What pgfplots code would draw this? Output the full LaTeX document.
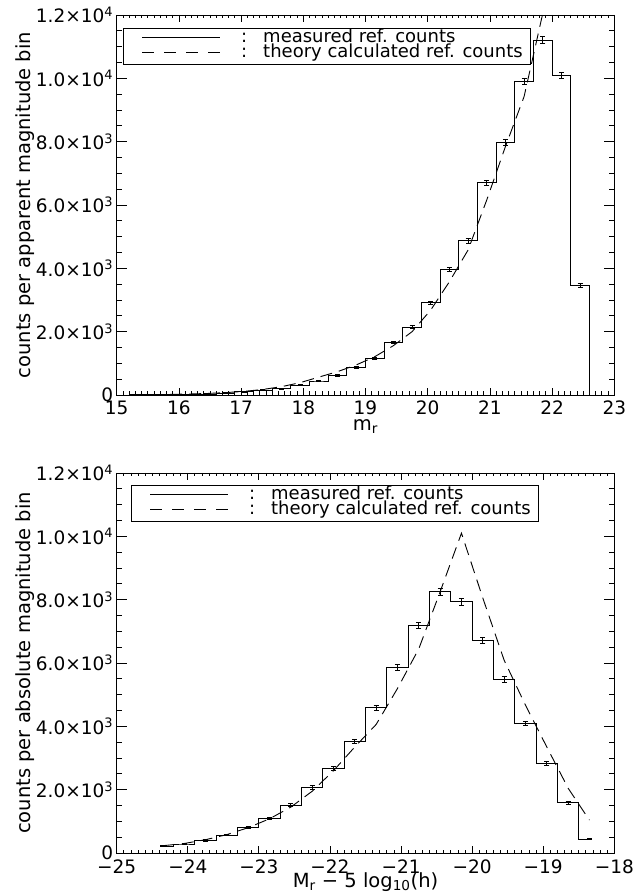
\documentclass[border=0pt]{standalone}
\usepackage{pgfplots}
\pgfplotsset{compat=1.18}
\usepackage{fontspec}
\setmainfont{DejaVu Sans}

\pgfplotstableread{
x y e
15.25 5 2
15.55 8 3
15.85 12 3
16.15 20 4
16.45 32 6
16.75 60 8
17.05 100 10
17.35 150 12
17.65 200 14
17.95 316 18
18.25 442 21
18.55 611 25
18.85 874 30
19.15 1148 34
19.45 1653 41
19.75 2139 46
20.05 2907 54
20.35 3965 63
20.65 4870 70
20.95 6699 82
21.25 7985 89
21.55 9900 100
21.85 11208 106
22.15 10090 100
22.45 3466 59
22.75 0 0
}\apphist

\pgfplotstableread{
x y
15.25 7
15.55 12
15.85 19
16.15 30
16.45 48
16.75 75
17.05 115
17.35 175
17.65 263
17.95 390
18.25 565
18.55 737
18.85 948
19.15 1211
19.45 1559
19.75 2002
20.05 2686
20.35 3581
20.65 4582
20.95 6162
21.25 7847
21.55 9426
21.85 12050
22.15 15000
22.45 18500
}\apptheory

\pgfplotstableread{
x y e
-24.35 220 17
-24.05 284 19
-23.75 390 23
-23.45 568 27
-23.15 800 33
-22.85 1095 38
-22.55 1515 45
-22.25 2072 52
-21.95 2670 59
-21.65 3530 68
-21.35 4595 78
-21.05 5860 88
-20.75 7190 97
-20.45 8245 105
-20.15 7930 102
-19.85 6710 94
-19.55 5480 85
-19.25 4090 73
-18.95 2830 61
-18.65 1590 46
-18.35 440 24
}\abshist

\pgfplotstableread{
x y
-24.35 230
-24.05 300
-23.75 420
-23.45 580
-23.15 800
-22.85 1080
-22.55 1450
-22.25 1950
-21.95 2600
-21.65 3350
-21.35 4060
-21.05 5195
-20.75 6450
-20.45 8250
-20.15 10100
-19.85 8055
-19.55 6090
-19.25 4670
-18.95 3350
-18.65 2050
-18.35 1040
}\abstheory

\newcommand{\solidsample}{\makebox[97pt][l]{\hspace{19pt}\rule[4.8pt]{78pt}{0.9pt}}}
\newcommand{\dashsample}{\makebox[97pt][l]{\hspace{19pt}\rule[4.8pt]{12pt}{0.9pt}\hspace{10pt}\rule[4.8pt]{12pt}{0.9pt}\hspace{10pt}\rule[4.8pt]{12pt}{0.9pt}\hspace{10pt}\rule[4.8pt]{12pt}{0.9pt}}}

\pgfplotsset{
  idl/.style={
    scale only axis,
    width=497.6pt, height=380pt,
    axis line style={line width=0.9pt},
    tick align=inside,
    xtick style={/pgfplots/major tick length=7pt, /pgfplots/minor tick length=3.5pt, line width=0.8pt, black},
    ytick style={/pgfplots/major tick length=10pt, /pgfplots/minor tick length=5pt, line width=0.8pt, black},
    minor x tick num=9,
    minor y tick num=3,
    ymin=0, ymax=12000,
    ytick={0,2000,4000,6000,8000,10000,12000},
    yticklabels={0,2.0×10\textsuperscript{3},4.0×10\textsuperscript{3},6.0×10\textsuperscript{3},8.0×10\textsuperscript{3},1.0×10\textsuperscript{4},1.2×10\textsuperscript{4}},
    scaled y ticks=false,
    tick label style={font=\fontsize{18.5}{20}\selectfont},
    xticklabel style={yshift=-2pt},
    label style={font=\fontsize{19.5}{22}\selectfont},
    xlabel style={at={(axis description cs:0.5,-0.083)}, anchor=center},
    ylabel style={at={(axis description cs:-0.185,0.5)}, anchor=center},
    legend image code/.code={},
    legend style={draw=black, line width=0.9pt, inner xsep=0pt, inner ysep=3pt,
      font=\fontsize{18}{20}\selectfont,
      nodes={inner sep=0pt, text height=11pt, text depth=4pt}},
    legend cell align=left,
  },
  hist/.style={black, line width=0.9pt, const plot mark mid, mark=none,
    error bars/.cd, y dir=both, y explicit,
    error bar style={line width=0.9pt, solid},
    error mark options={rotate=90, mark size=2.5pt, line width=0.9pt, solid}},
  theo/.style={black, line width=0.9pt, mark=none, dash pattern=on 12pt off 7pt},
}

\begin{document}
\begin{tikzpicture}
\begin{axis}[idl, at={(116.7pt,499pt)}, anchor=south west,
  xmin=15, xmax=23,
  xtick={15,16,17,18,19,20,21,22,23},
  xticklabels={15,16,17,18,19,20,21,22,23},
  xlabel={m\textsubscript{r}},
  ylabel={counts per apparent magnitude bin},
  legend style={at={(axis description cs:0.0121,0.9658)}, anchor=north west},
]
\addplot[hist] table[x=x, y=y, y error=e] {\apphist};
\addlegendentry{\solidsample\makebox[310pt][l]{\hspace{21pt}:\hspace{16pt}measured ref. counts}}
\addplot[theo] table[x=x, y=y] {\apptheory};
\addlegendentry{\dashsample\makebox[310pt][l]{\hspace{21pt}:\hspace{16pt}theory calculated ref. counts}}
\end{axis}

\begin{axis}[idl, at={(116.7pt,41pt)}, anchor=south west,
  xmin=-25, xmax=-18,
  xtick={-25,-24,-23,-22,-21,-20,-19,-18},
  xticklabels={−25,−24,−23,−22,−21,−20,−19,−18},
  xticklabel style={yshift=-1pt},
  xlabel={M\textsubscript{r} − 5 log\textsubscript{10}(h)},
  xlabel style={at={(axis description cs:0.5,-0.077)}, anchor=center},
  ylabel={counts per absolute magnitude bin},
  legend style={at={(axis description cs:0.0281,0.9677)}, anchor=north west},
]
\addplot[hist] table[x=x, y=y, y error=e] {\abshist};
\addlegendentry{\solidsample\makebox[310pt][l]{\hspace{21pt}:\hspace{16pt}measured ref. counts}}
\addplot[theo] table[x=x, y=y] {\abstheory};
\addlegendentry{\dashsample\makebox[310pt][l]{\hspace{21pt}:\hspace{16pt}theory calculated ref. counts}}
\end{axis}
\pgfresetboundingbox
\path (0pt,0pt) rectangle (635pt,894pt);
\end{tikzpicture}
\end{document}
